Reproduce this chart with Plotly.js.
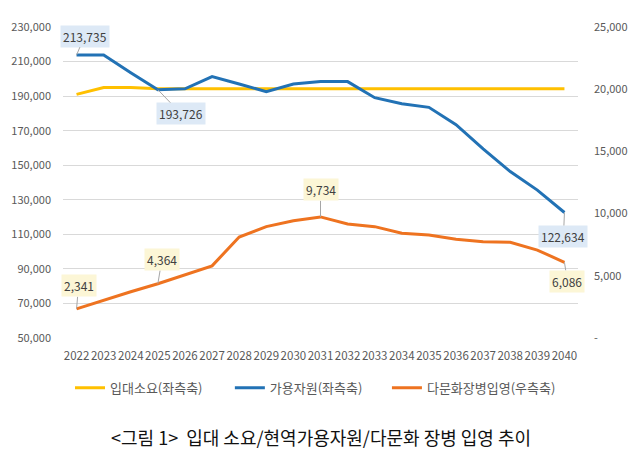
<!DOCTYPE html>
<html>
<head>
<meta charset="utf-8">
<script src="https://cdn.plot.ly/plotly-3.0.1.min.js"></script>
<style>html,body{margin:0;padding:0;background:#fff}#chart{width:640px;height:451px}</style>
</head>
<body>
<div id="chart"></div>
<script>
var years = ['2022','2023','2024','2025','2026','2027','2028','2029','2030','2031','2032','2033','2034','2035','2036','2037','2038','2039','2040'];
var demand = [191000,195000,195000,194200,194200,194200,194200,194200,194200,194200,194200,194200,194200,194200,194200,194200,194200,194200,194200];
var available = [213735,213735,203500,193726,194200,201300,197000,192600,197000,198400,198400,189100,185600,183500,173500,159500,146300,135600,122634];
var multicultural = [2341,3050,3720,4364,5090,5800,8120,8950,9430,9734,9160,8950,8420,8280,7930,7740,7690,7070,6086];
var seriesNames = ['입대소요(좌측축)','가용자원(좌측축)','다문화장병입영(우측축)'];
var leftTicks = [50000,70000,90000,110000,130000,150000,170000,190000,210000,230000];
var rightTicks = [0,5000,10000,15000,20000,25000];
var rightTickText = ['-','5,000','10,000','15,000','20,000','25,000'];
var caption = '&lt;그림 1&gt;  입대 소요/현역가용자원/다문화 장병 입영 추이';

var blueLabelIdx = [0,3,18];
var orangeLabelIdx = [0,3,9,18];
var blueOffsets = [[8,-19],[23,24],[-1,24]];
var orangeOffsets = [[2,-23],[4,-24],[0,-27],[3,19]];

function fmt(v){return v.toLocaleString('en-US');}

var font = 'Noto Sans CJK KR, Noto Sans, sans-serif';
var traces = [
  {x: years, y: demand, name: seriesNames[0], type:'scatter', mode:'lines', line:{color:'#FFC000', width:3}, yaxis:'y', legend:'legend'},
  {x: years, y: available, name: seriesNames[1], type:'scatter', mode:'lines', line:{color:'#2272B5', width:3}, yaxis:'y', legend:'legend2'},
  {x: years, y: multicultural, name: seriesNames[2], type:'scatter', mode:'lines', line:{color:'#EE7320', width:3}, yaxis:'y2', legend:'legend3'}
];

var annotations = [];
blueLabelIdx.forEach(function(i,k){
  annotations.push({x: i, y: available[i], xref:'x', yref:'y', text: fmt(available[i]),
    showarrow:true, arrowhead:0, arrowwidth:1, arrowcolor:'#a6a6a6', standoff:0,
    ax: blueOffsets[k][0], ay: blueOffsets[k][1], bgcolor:'#dde9f6', borderpad:2,
    font:{family:font, size:12, color:'#404040'}});
});
orangeLabelIdx.forEach(function(i,k){
  annotations.push({x: i, y: multicultural[i], xref:'x', yref:'y2', text: fmt(multicultural[i]),
    showarrow:true, arrowhead:0, arrowwidth:1, arrowcolor:'#a6a6a6', standoff:0,
    ax: orangeOffsets[k][0], ay: orangeOffsets[k][1], bgcolor:'#fcf6d6', borderpad:2,
    font:{family:font, size:12, color:'#404040'}});
});
annotations.push({xref:'paper', yref:'paper', x:0.5, y:-0.318, xanchor:'center', yanchor:'middle',
  text: caption, showarrow:false, font:{family:font, size:18, color:'#111111'}});

function legendAt(x){
  return {orientation:'h', x:x, xanchor:'left', y:-0.16, yanchor:'middle',
    font:{family:font, size:13, color:'#595959'}, itemwidth:30, bgcolor:'rgba(0,0,0,0)'};
}

var layout = {
  width:640, height:451,
  margin:{l:63, r:62, t:27, b:113},
  paper_bgcolor:'#ffffff', plot_bgcolor:'#ffffff',
  showlegend:true,
  legend: legendAt(0.0136),
  legend2: legendAt(0.324),
  legend3: legendAt(0.629),
  xaxis:{type:'category', range:[-0.5,18.5], showgrid:false, zeroline:false, showline:false,
    ticks:'', ticklabelstandoff:9, tickfont:{family:font, size:11.5, color:'#595959'}, tickangle:0},
  yaxis:{range:[50000,230000], tickvals:leftTicks, ticktext:leftTicks.map(fmt), showgrid:true,
    gridcolor:'#d9d9d9', gridwidth:1, zeroline:false, showline:false, ticks:'',
    ticklabelstandoff:11, tickfont:{family:font, size:11, color:'#595959'}},
  yaxis2:{range:[0,25000], overlaying:'y', side:'right', tickvals:rightTicks, ticktext:rightTickText,
    showgrid:false, zeroline:false, showline:false, ticks:'', ticklabelstandoff:15,
    tickfont:{family:font, size:11, color:'#595959'}},
  annotations: annotations
};

Plotly.newPlot('chart', traces, layout, {displayModeBar:false, staticPlot:true});
</script>
</body>
</html>
